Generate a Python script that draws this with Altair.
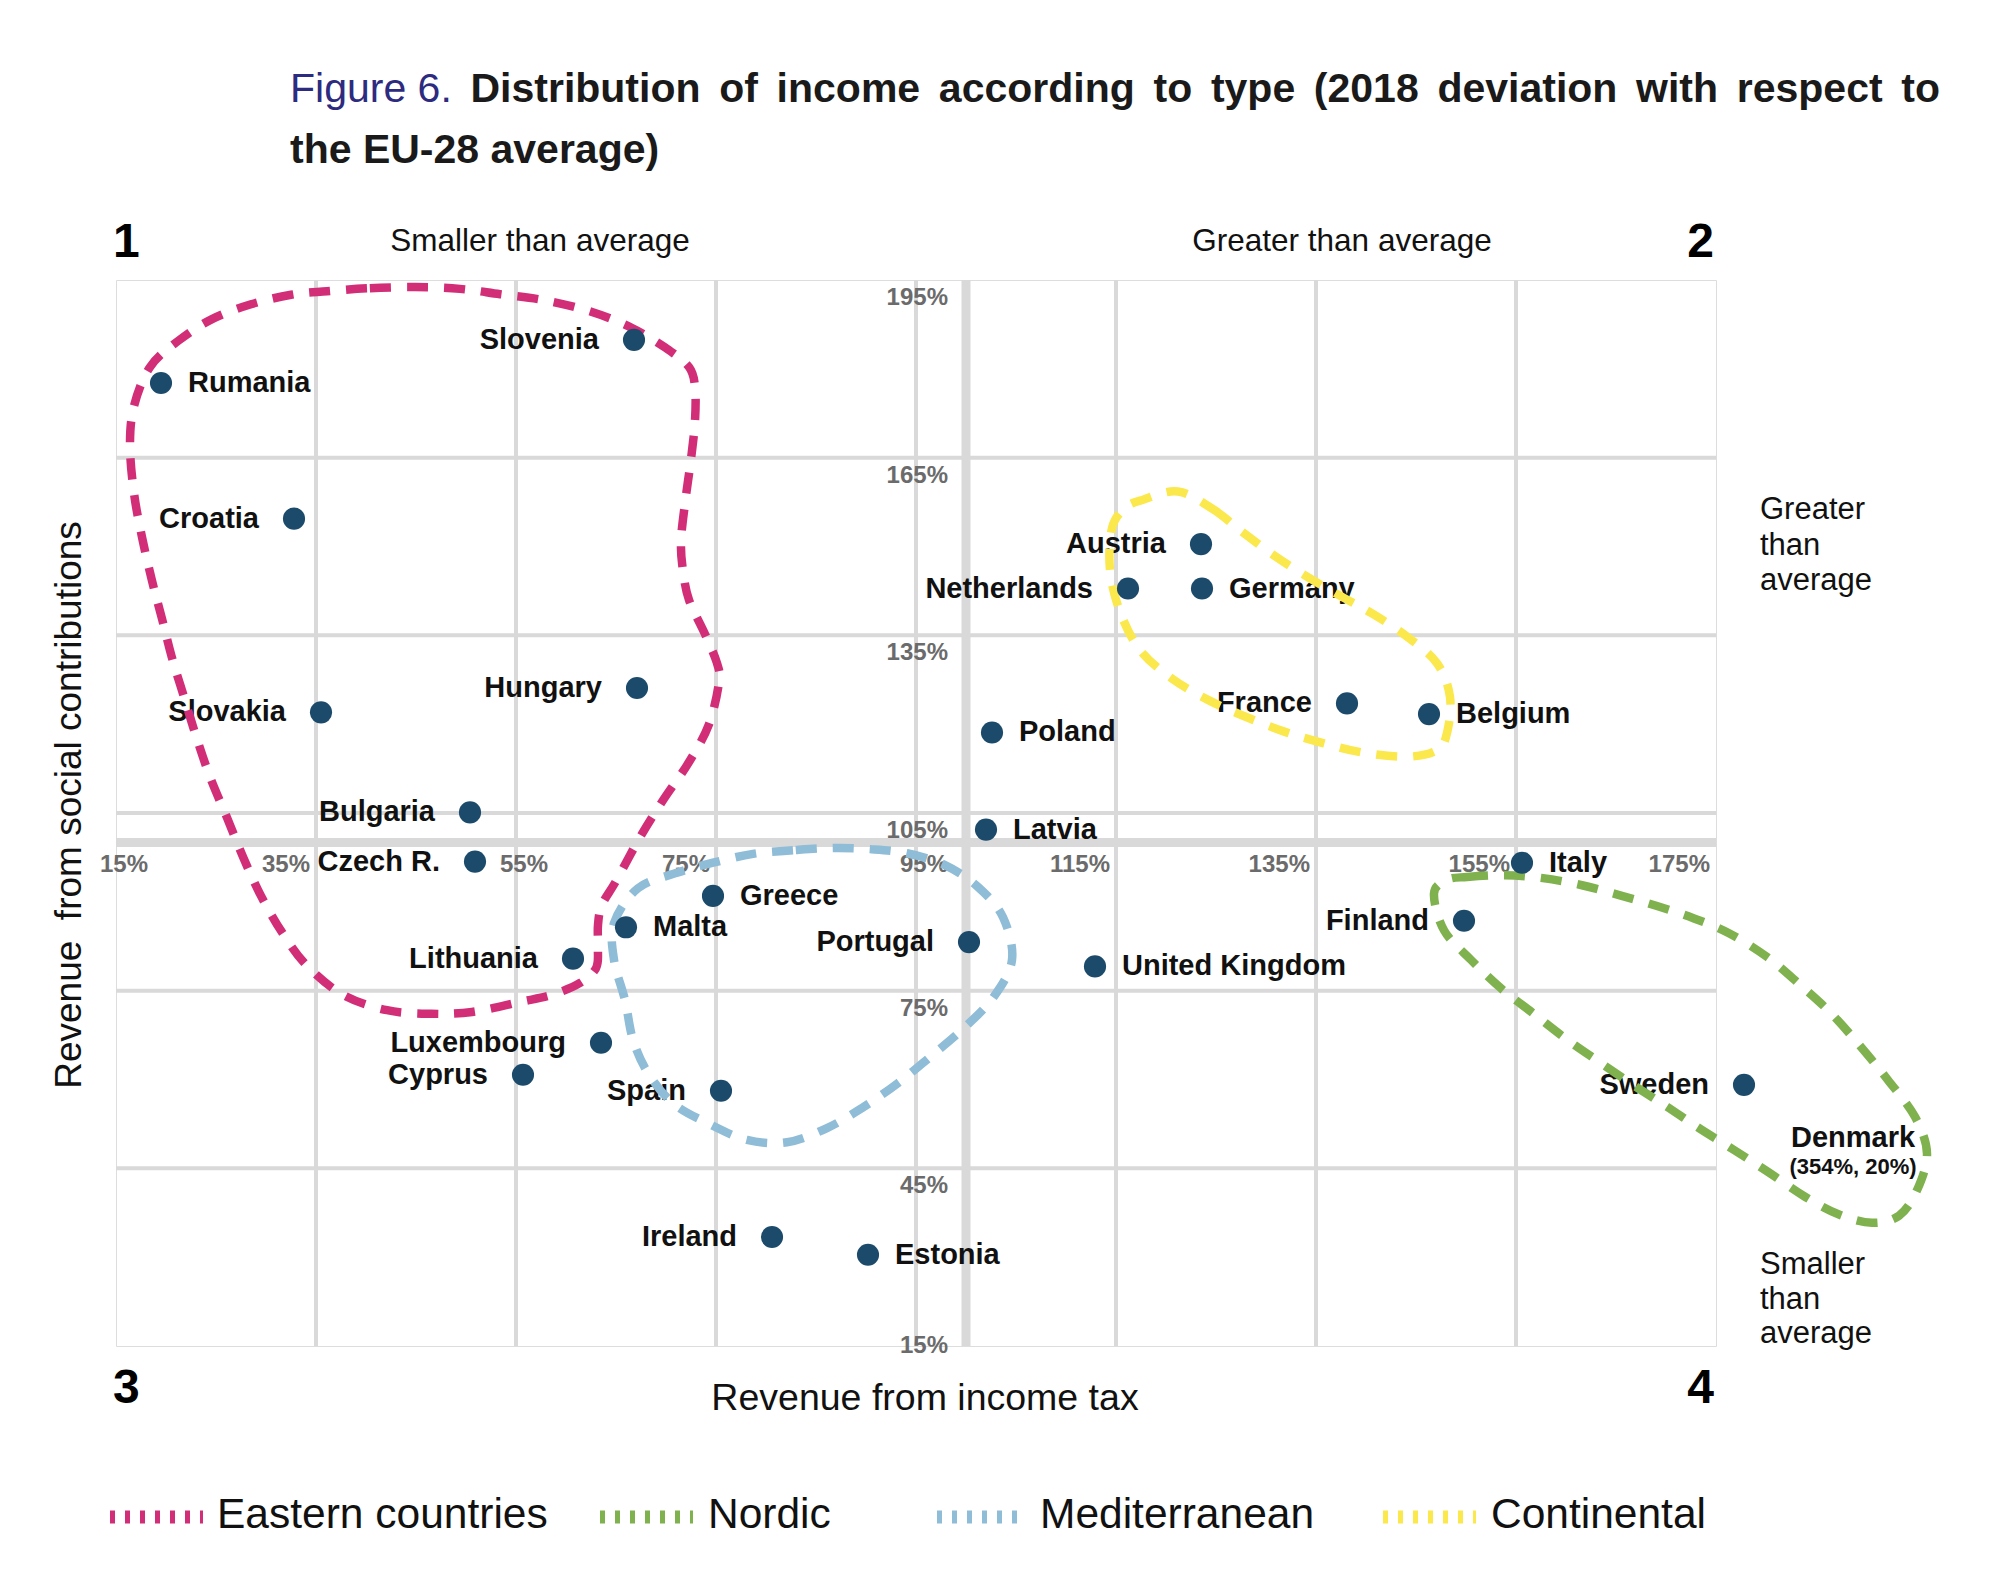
import altair as alt
import pandas as pd

# ---------------- data ----------------
countries = ["Rumania", "Slovenia", "Croatia", "Slovakia", "Hungary", "Bulgaria", "Czech R.",
             "Greece", "Malta", "Lithuania", "Luxembourg", "Cyprus", "Spain", "Ireland", "Estonia",
             "Portugal", "United Kingdom", "Poland", "Latvia", "Austria", "Netherlands", "Germany",
             "France", "Belgium", "Italy", "Finland", "Sweden"]
income_tax = [19.5, 66.8, 32.8, 35.5, 67.1, 50.4, 50.9,
              74.7, 66.0, 60.7, 63.5, 55.7, 75.5, 80.6, 90.2,
              100.3, 112.9, 102.6, 102.0, 123.5, 116.2, 123.6,
              138.1, 146.3, 155.6, 149.8, 177.8]
social_contrib = [177.6, 184.9, 154.7, 122.0, 126.1, 105.1, 96.8,
                  91.0, 85.7, 80.4, 66.2, 60.8, 58.1, 33.4, 30.4,
                  83.2, 79.1, 118.6, 102.2, 150.4, 142.9, 142.9,
                  123.5, 121.7, 96.6, 86.8, 59.1]
label_side = ["R", "L", "L", "L", "L", "L", "L",
              "R", "R", "L", "L", "L", "L", "L", "R",
              "L", "R", "R", "R", "L", "L", "R",
              "L", "R", "R", "L", "L"]

groups = ["Eastern countries", "Nordic", "Mediterranean", "Continental"]
group_colors = ["#d22e78", "#7fb24f", "#8fbcd6", "#fbe84c"]

eastern_x = [44.9, 40.1, 36.1, 32.5, 28.5, 24.6, 21.2, 18.4, 16.8, 16.4, 16.8, 17.6, 18.6, 19.6,
             20.6, 21.8, 23.0, 24.4, 26.1, 27.7, 29.5, 31.7, 34.1, 37.7, 42.1, 46.5, 50.6, 55.4,
             58.6, 61.4, 63.0, 63.2, 63.2, 63.6, 65.0, 67.4, 69.8, 72.3, 74.3, 75.3, 75.1, 73.9,
             72.3, 71.7, 71.5, 71.9, 72.5, 72.9, 72.9, 72.3, 70.0, 66.6, 62.6, 57.8, 53.4, 49.4]
eastern_y = [193.8, 193.6, 193.1, 192.5, 190.9, 188.4, 184.7, 180.3, 173.7, 167.1, 159.0, 151.6,
             144.2, 137.8, 131.2, 124.6, 118.0, 111.1, 104.2, 97.6, 91.0, 84.6, 79.2, 74.3, 71.7,
             71.1, 71.4, 73.1, 74.3, 76.3, 78.8, 82.0, 86.1, 89.5, 93.5, 100.9, 107.4, 113.6,
             120.0, 127.1, 130.3, 135.2, 141.0, 145.9, 150.8, 157.3, 164.8, 171.2, 176.9, 180.3,
             183.5, 186.9, 189.6, 191.6, 192.6, 193.5]

nordic_x = [148.1, 150.1, 153.9, 157.7, 161.6, 165.4, 169.1, 172.8, 176.3, 180.1, 183.4, 186.5,
            189.5, 192.2, 194.9, 196.1, 195.1, 193.3, 190.6, 187.3, 183.9, 180.2, 176.8, 173.3,
            170.1, 166.7, 163.3, 159.9, 156.7, 153.5, 150.5, 147.8, 146.8]
nordic_y = [93.7, 94.2, 94.5, 94.0, 92.8, 91.1, 89.3, 87.2, 84.7, 80.7, 76.0, 71.2, 65.5, 59.9,
            53.7, 47.5, 41.3, 37.0, 35.8, 37.2, 40.2, 44.4, 48.1, 51.8, 55.4, 59.1, 63.0, 67.0,
            71.2, 75.4, 80.2, 85.2, 91.4]

med_x = [86.7, 82.7, 78.7, 74.7, 71.1, 67.2, 64.8, 64.8, 65.9, 66.7, 68.2, 70.7, 74.2, 78.1,
         82.1, 86.1, 89.7, 93.2, 96.4, 99.6, 102.7, 104.6, 103.7, 101.2, 97.9, 94.1, 90.4]
med_y = [99.1, 98.7, 98.1, 96.6, 94.9, 92.3, 86.4, 80.2, 73.4, 66.7, 61.1, 56.0, 52.6, 49.8,
         49.4, 51.8, 55.3, 59.4, 63.8, 68.4, 73.8, 80.2, 87.4, 92.5, 96.2, 98.2, 98.9]

cont_x = [121.2, 124.7, 127.6, 130.7, 134.1, 137.6, 140.6, 144.1, 147.1, 148.4, 148.1, 147.1,
          144.1, 139.7, 135.7, 131.9, 127.9, 124.2, 120.6, 117.4, 115.4, 114.4, 114.6, 115.9, 117.7]
cont_y = [159.3, 156.3, 152.5, 148.6, 144.9, 141.5, 138.7, 134.8, 130.3, 124.6, 118.5, 115.6,
          114.5, 115.2, 116.8, 118.7, 121.3, 124.1, 127.7, 132.5, 139.0, 146.0, 153.1, 156.5, 157.9]

x_ticks = [15, 35, 55, 75, 95, 115, 135, 155, 175]
y_ticks = [195, 165, 135, 105, 75, 45, 15]
x_grid = [35, 55, 75, 95, 115, 135, 155]
y_grid = [165, 135, 105, 75, 45]
x_ticks_centered = [15, 55, 95]

title_lead = "Figure 6."
title_line1 = "Distribution of income according to type (2018 deviation with respect to"
title_line2 = "the EU-28 average)"

# ---------------- layout / style ----------------
FONT = "Liberation Sans"
PL, PT = 116, 280          # plot-area origin on the page
W, H = 1600, 1066
GRID = "#d9d9d9"
DOT = "#1b4a6b"
TICKC = "#6b6b6b"
INK = "#111111"

xs = alt.Scale(domain=[15, 175], nice=False, zero=False)
ys = alt.Scale(domain=[15, 195], nice=False, zero=False)
one = pd.DataFrame({"t": [""]})


def note(text, px, py, size, weight="normal", align="left", color=INK,
         angle=0, baseline="alphabetic"):
    return alt.Chart(pd.DataFrame({"t": [text]})).mark_text(
        font=FONT, fontSize=size, fontWeight=weight, align=align,
        baseline=baseline, color=color, angle=angle
    ).encode(x=alt.value(px - PL), y=alt.value(py - PT), text="t:N")


layers = []

# grid
layers.append(alt.Chart(pd.DataFrame({"v": x_grid})).mark_rule(color=GRID, strokeWidth=4)
              .encode(x=alt.X("v:Q", scale=xs, axis=None)))
layers.append(alt.Chart(pd.DataFrame({"v": y_grid})).mark_rule(color=GRID, strokeWidth=4)
              .encode(y=alt.Y("v:Q", scale=ys, axis=None)))
# centre (EU average) lines
layers.append(alt.Chart(one).mark_rule(color=GRID, strokeWidth=9)
              .encode(x=alt.datum(100, scale=xs)))
layers.append(alt.Chart(one).mark_rule(color=GRID, strokeWidth=9)
              .encode(y=alt.datum(100, scale=ys)))

# tick labels on the centre lines
xt = pd.DataFrame({"v": x_ticks, "lab": [f"{v}%" for v in x_ticks],
                   "c": [v in x_ticks_centered for v in x_ticks]})
yt = pd.DataFrame({"v": y_ticks, "lab": [f"{v}%" for v in y_ticks]})
tick_style = dict(font=FONT, fontSize=24, fontWeight="bold", color=TICKC)
layers.append(alt.Chart(xt).transform_filter("!datum.c").mark_text(
    align="right", baseline="top", dx=-6, dy=10, **tick_style)
    .encode(x=alt.X("v:Q", scale=xs), y=alt.datum(100, scale=ys), text="lab:N"))
layers.append(alt.Chart(xt).transform_filter("datum.c").mark_text(
    align="center", baseline="top", dx=8, dy=10, **tick_style)
    .encode(x=alt.X("v:Q", scale=xs), y=alt.datum(100, scale=ys), text="lab:N"))
layers.append(alt.Chart(yt).transform_filter("datum.v > 15").mark_text(
    align="right", baseline="top", dx=-18, dy=6, **tick_style)
    .encode(x=alt.datum(100, scale=xs), y=alt.Y("v:Q", scale=ys), text="lab:N"))
layers.append(alt.Chart(yt).transform_filter("datum.v == 15").mark_text(
    align="right", baseline="middle", dx=-18, dy=0, **tick_style)
    .encode(x=alt.datum(100, scale=xs), y=alt.Y("v:Q", scale=ys), text="lab:N"))

# country labels
df = pd.DataFrame({"country": countries, "income_tax": income_tax,
                   "social": social_contrib, "side": label_side})
lab_style = dict(font=FONT, fontSize=29, fontWeight="bold", color=INK, baseline="middle")
layers.append(alt.Chart(df).transform_filter("datum.side == 'L'").mark_text(
    align="right", dx=-35, **lab_style)
    .encode(x=alt.X("income_tax:Q", scale=xs), y=alt.Y("social:Q", scale=ys), text="country:N"))
layers.append(alt.Chart(df).transform_filter("datum.side == 'R'").mark_text(
    align="left", dx=27, **lab_style)
    .encode(x=alt.X("income_tax:Q", scale=xs), y=alt.Y("social:Q", scale=ys), text="country:N"))

# group loops
rows = []
for g, lx, ly in zip(groups, [eastern_x, nordic_x, med_x, cont_x],
                     [eastern_y, nordic_y, med_y, cont_y]):
    for i, (a, b) in enumerate(zip(lx, ly)):
        rows.append({"group": g, "x": a, "y": b, "o": i})
loops = pd.DataFrame(rows)
color_scale = alt.Scale(domain=groups, range=group_colors)
layers.append(alt.Chart(loops).mark_line(
    interpolate="cardinal-closed", strokeWidth=8.5, strokeDash=[21, 16], strokeCap="butt")
    .encode(x=alt.X("x:Q", scale=xs), y=alt.Y("y:Q", scale=ys),
            color=alt.Color("group:N", scale=color_scale, legend=None),
            detail="group:N", order="o:Q"))

# points
layers.append(alt.Chart(df).mark_circle(size=490, color=DOT, opacity=1)
              .encode(x=alt.X("income_tax:Q", scale=xs), y=alt.Y("social:Q", scale=ys)))

# Denmark (off-scale) annotation
layers.append(note("Denmark", 1853, 1147, 29, weight="bold", align="center"))
layers.append(note("(354%, 20%)", 1853, 1174, 22, weight="bold", align="center"))

# title (justified first line)
AB = {" ": 278, "(": 333, ")": 333, "0": 556, "1": 556, "2": 556, "8": 556, "D": 722,
      "a": 556, "b": 611, "c": 556, "d": 611, "e": 556, "f": 333, "g": 611, "h": 611,
      "i": 278, "m": 889, "n": 611, "o": 611, "p": 611, "r": 389, "s": 556, "t": 333,
      "u": 611, "v": 556, "w": 778, "y": 556}
AR = {"F": 611, "i": 222, "g": 556, "u": 556, "r": 333, "e": 556, " ": 278, "6": 556, ".": 278}
TFS = 41
t_left, t_right = 290, 1940
w_lead = sum(AR.get(c, 556) for c in title_lead) * TFS / 1000
words = title_line1.split()
ws = [sum(AB.get(c, 556) for c in w) * TFS / 1000 for w in words]
gap = (t_right - t_left - w_lead - sum(ws)) / len(words)
layers.append(note(title_lead, t_left, 102, TFS, color="#2d2b7f"))
xcur = t_left + w_lead + gap
for w, wd in zip(words, ws):
    layers.append(note(w, xcur, 102, TFS, weight="bold", color="#1a1a1a"))
    xcur += wd + gap
layers.append(note(title_line2, t_left, 163, TFS, weight="bold", color="#1a1a1a"))

# quadrant numbers
layers.append(note("1", 113, 257, 48, weight="bold", color="#000000"))
layers.append(note("2", 1714, 257, 48, weight="bold", align="right", color="#000000"))
layers.append(note("3", 113, 1403, 48, weight="bold", color="#000000"))
layers.append(note("4", 1714, 1403, 48, weight="bold", align="right", color="#000000"))

# axis descriptions
layers.append(note("Smaller than average", 540, 251, 31.5, align="center"))
layers.append(note("Greater than average", 1342, 251, 31.5, align="center"))
for txt, by in zip(["Greater", "than", "average"], [519, 555, 590]):
    layers.append(note(txt, 1760, by, 31))
for txt, by in zip(["Smaller", "than", "average"], [1274, 1309, 1343]):
    layers.append(note(txt, 1760, by, 31))
layers.append(note("Revenue from income tax", 925, 1410, 37.5, align="center"))
layers.append(note("Revenue\u00a0 from social contributions", 70, 805, 37, align="center",
                   angle=270, baseline="middle"))

# legend
leg_sym = [(110, 203), (600, 693), (937, 1024), (1383, 1476)]
leg_txt = [217, 708, 1040, 1491]
for g, c, (a, b), tx in zip(groups, group_colors, leg_sym, leg_txt):
    layers.append(alt.Chart(one).mark_rule(color=c, strokeWidth=13, strokeDash=[5, 10])
                  .encode(x=alt.value(a - PL), x2=alt.value(b - PL), y=alt.value(1517 - PT)))
    layers.append(note(g, tx, 1528, 42.5))

chart = alt.layer(*layers).properties(
    width=W, height=H,
    padding={"left": 108, "top": 272, "right": 270, "bottom": 230},
    autosize=alt.AutoSizeParams(type="none"),
    background="white",
).configure_view(stroke=GRID, strokeWidth=5).configure(font=FONT)

chart.save("out.html", embed_options={"renderer": "svg", "actions": False})
